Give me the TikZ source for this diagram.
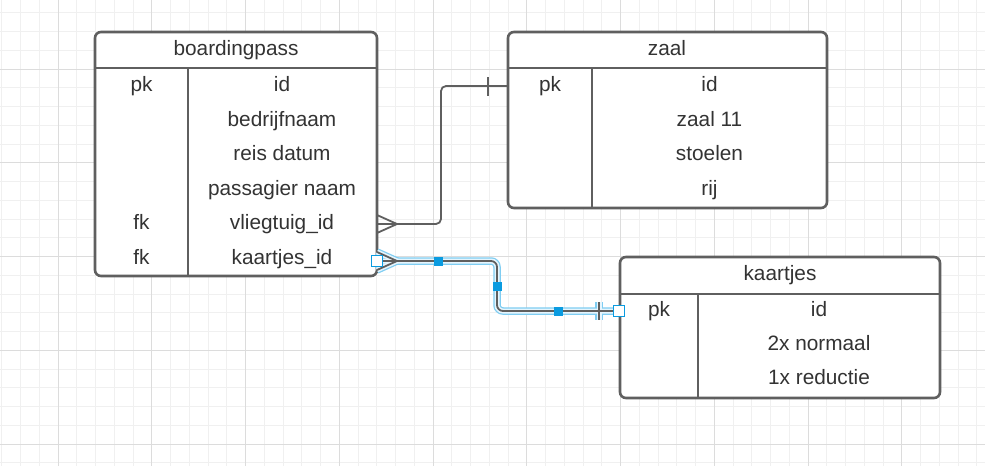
\documentclass[tikz,border=0pt]{standalone}
\usepackage{fontspec}
\setmainfont{Liberation Sans}
\usetikzlibrary{calc}
\usepackage{xcolor}
\definecolor{ink}{HTML}{333333}
\definecolor{edge}{HTML}{5F5F5F}
\definecolor{gridmin}{HTML}{F0F0F0}
\definecolor{gridmaj}{HTML}{DCDCDC}
\definecolor{selblue}{HTML}{0A9BE0}
\definecolor{halo}{HTML}{7FCDF2}
\definecolor{halofill}{HTML}{E6F5FD}

\begin{document}
\begin{tikzpicture}[x=1pt,y=-1pt,
  tbl/.style={draw=edge,line width=2.6pt,rounded corners=6pt,fill=white},
  sep/.style={draw=edge,line width=2.6pt},
  txt/.style={text=ink,anchor=base,inner sep=0pt,font=\fontsize{20.8}{24}\selectfont},
  rel/.style={draw=edge,line width=1.8pt},
  haloout/.style={draw=halo,line width=7.5pt},
  haloin/.style={draw=halofill,line width=5pt},
  handle/.style={fill=selblue,minimum size=9pt,inner sep=0pt},
  endhandle/.style={draw=selblue,fill=white,line width=1.2pt,minimum size=11pt,inner sep=0pt}]
  \useasboundingbox (0,0) rectangle (985,466);
  \fill[white] (0,0) rectangle (985,466);

  % grid
  \foreach \k in {0,...,52}{
    \pgfmathsetmacro{\gx}{1.75+18.75*\k}
    \draw[gridmin,line width=1pt] (\gx,0) -- (\gx,466);
  }
  \foreach \k in {0,...,24}{
    \pgfmathsetmacro{\gy}{12.75+18.75*\k}
    \draw[gridmin,line width=1pt] (0,\gy) -- (985,\gy);
  }
  \foreach \k in {0,...,9}{
    \pgfmathsetmacro{\gx}{58+93.75*\k}
    \draw[gridmaj,line width=1pt] (\gx,0) -- (\gx,466);
  }
  \foreach \k in {0,...,4}{
    \pgfmathsetmacro{\gy}{69+93.75*\k}
    \draw[gridmaj,line width=1pt] (0,\gy) -- (985,\gy);
  }

  % boardingpass
  \draw[tbl] (95,32) rectangle (377,276);
  \draw[sep] (95,68) -- (377,68);
  \draw[sep] (188,68) -- (188,276);
  \node[txt] (bp) at (236,55) {boardingpass};
  \pgfmathsetmacro{\dy}{34.5}
  \foreach \nm/\i in {bedrijfnaam/1,reis datum/2,passagier naam/3,vliegtuig\_id/4,kaartjes\_id/5}{
    \node[txt] (bp-\i) at (282,91.5+\i*\dy) {\nm};
  }
  \node[txt] (bp-0) at (282,91.5) {id};
  \node[txt] (bp-pk) at (141.5,91.5) {pk};
  \node[txt] (bp-fk1) at (141.5,91.5+4*\dy) {fk};
  \node[txt] (bp-fk2) at (141.5,91.5+5*\dy) {fk};

  % zaal
  \draw[tbl] (508,32) rectangle (827,208);
  \draw[sep] (508,68) -- (827,68);
  \draw[sep] (592,68) -- (592,208);
  \node[txt] (zl) at (667,55) {zaal};
  \foreach \nm/\i in {id/0,zaal 11/1,stoelen/2,rij/3}{
    \node[txt] (zl-\i) at (709.5,91.5+\i*\dy) {\nm};
  }
  \node[txt] (zl-pk) at (550,91.5) {pk};

  % kaartjes
  \draw[tbl] (620,257) rectangle (940,398);
  \draw[sep] (620,294) -- (940,294);
  \draw[sep] (698,294) -- (698,398);
  \node[txt] (kt) at (780,280) {kaartjes};
  \foreach \nm/\i in {id/0,2x normaal/1,1x reductie/2}{
    \node[txt] (kt-\i) at (819,316+\i*34.3) {\nm};
  }
  \node[txt] (kt-pk) at (659,316) {pk};

  % vliegtuig_id -> zaal
  \coordinate (vl) at (377,224);
  \coordinate (zid) at (508,86);
  \draw[rel,rounded corners=5pt] (vl) -- (441,224) -- (441,86) -- (zid);
  \draw[rel] (377,215) -- (397,224) -- (377,233);
  \draw[rel] (488,77) -- (488,96);

  % kaartjes_id -> kaartjes (selected)
  \coordinate (kid) at (377,261);
  \coordinate (kpk) at (620,311);
  \foreach \st in {haloout,haloin,rel}{
    \draw[\st,rounded corners=6pt] (kid) -- (497,261) -- (497,311) -- (kpk);
    \draw[\st] (377,252) -- (397,261) -- (377,270);
    \draw[\st] (599,302) -- (599,320);
  }
  \node[handle] (h1) at (438,261) {};
  \node[handle] (h2) at (497,286) {};
  \node[handle] (h3) at (558,311) {};
  \node[endhandle] (e1) at (kid) {};
  \node[endhandle] (e2) at (619,311) {};
\end{tikzpicture}
\end{document}
